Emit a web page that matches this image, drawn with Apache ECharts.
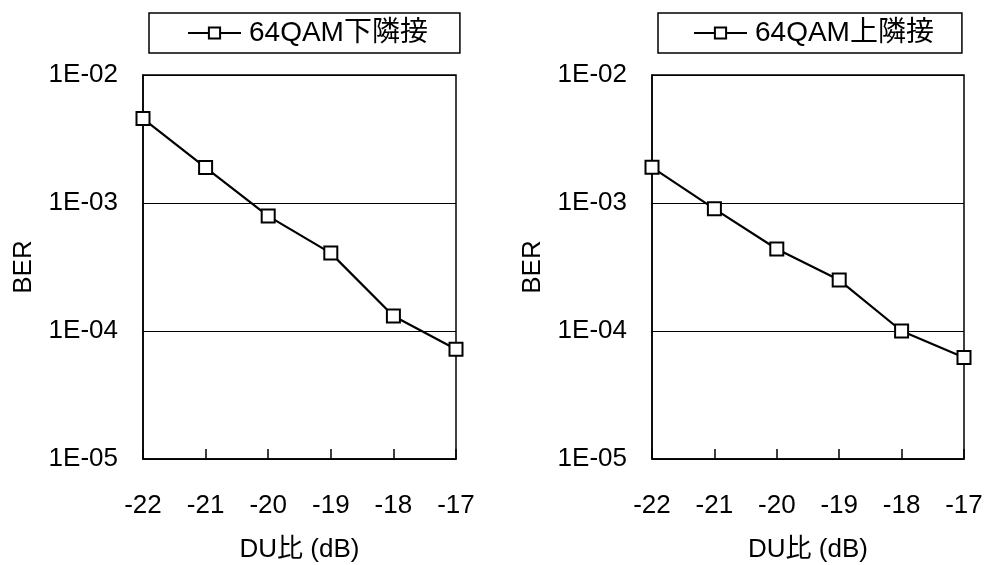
<!DOCTYPE html>
<html>
<head>
<meta charset="utf-8">
<script src="https://cdn.jsdelivr.net/npm/echarts@6/dist/echarts.min.js"></script>
<style>
html,body{margin:0;padding:0;background:#fff;}
#chart{width:989px;height:565px;}
</style>
</head>
<body>
<div id="chart"></div>
<script>
const xValues = [-22, -21, -20, -19, -18, -17];
const lowerAdjacentBER = [4.57e-3, 1.89e-3, 7.9e-4, 4.06e-4, 1.31e-4, 7.2e-5];
const upperAdjacentBER = [1.9e-3, 9.0e-4, 4.37e-4, 2.5e-4, 1.0e-4, 6.2e-5];
const seriesNames = ['64QAM下隣接', '64QAM上隣接'];
const xAxisTitle = 'DU比 (dB)';
const yAxisTitle = 'BER';

const FONT = '"Liberation Sans", Arial, "Noto Sans CJK JP", sans-serif';
const chart = echarts.init(document.getElementById('chart'), null, {renderer: 'canvas'});

function pairs(ys) { return xValues.map((x, i) => [x, ys[i]]); }
function fmtY(v) {
  const e = Math.round(Math.log10(v));
  const a = Math.abs(e);
  return '1E' + (e < 0 ? '-' : '+') + (a < 10 ? '0' : '') + a;
}

const grids = [
  {left: 143, top: 75, width: 313, height: 384},
  {left: 652, top: 75, width: 312, height: 384}
];

const option = {
  backgroundColor: '#fff',
  animation: false,
  textStyle: {fontFamily: FONT, color: '#000'},
  grid: grids.map(g => Object.assign({show: true, borderColor: '#000', borderWidth: 1.5, backgroundColor: 'transparent', containLabel: false, outerBoundsMode: 'none'}, g)),
  legend: [0, 1].map(i => ({
    data: [seriesNames[i]],
    left: i === 0 ? 149 : 658,
    top: 13,
    padding: i === 0 ? [6, 32, 6, 38] : [6, 28, 6, 35],
    borderColor: '#000',
    borderWidth: 1.5,
    itemWidth: 53,
    itemHeight: 14,
    itemGap: 0,
    textStyle: {fontFamily: FONT, fontSize: 28, color: '#000', padding: [0, 0, 0, 3]}
  })),
  xAxis: [0, 1].map(i => ({
    type: 'value',
    gridIndex: i,
    min: -22, max: -17, interval: 1,
    name: xAxisTitle,
    nameLocation: 'middle',
    nameGap: 78,
    nameTextStyle: {fontFamily: FONT, fontSize: 26, color: '#000'},
    axisLine: {show: true, onZero: false, lineStyle: {color: '#000', width: 1.5}},
    axisTick: {show: true, inside: true, length: 10, lineStyle: {color: '#000', width: 1.5}},
    axisLabel: {fontFamily: FONT, fontSize: 26, color: '#000', margin: 34, formatter: v => String(v)},
    splitLine: {show: false}
  })),
  yAxis: [0, 1].map(i => ({
    type: 'log',
    logBase: 10,
    gridIndex: i,
    min: 1e-5, max: 1e-2,
    name: yAxisTitle,
    nameLocation: 'middle',
    nameGap: 106,
    nameRotate: 90,
    nameTextStyle: {fontFamily: FONT, fontSize: 26, color: '#000'},
    axisLine: {show: true, lineStyle: {color: '#000', width: 1.5}},
    axisTick: {show: false},
    axisLabel: {fontFamily: FONT, fontSize: 26, color: '#000', margin: 25, padding: [3, 0, 0, 0], formatter: fmtY},
    splitLine: {show: true, lineStyle: {color: '#000', width: 1.2}}
  })),
  series: [
    {name: seriesNames[0], data: pairs(lowerAdjacentBER)},
    {name: seriesNames[1], data: pairs(upperAdjacentBER)}
  ].map((s, i) => ({
    type: 'line',
    name: s.name,
    xAxisIndex: i, yAxisIndex: i,
    data: s.data,
    symbol: 'rect',
    symbolSize: 13,
    showAllSymbol: true,
    lineStyle: {color: '#000', width: 2.2},
    itemStyle: {color: '#fff', borderColor: '#000', borderWidth: 2},
    emphasis: {disabled: true},
    z: 5
  }))
};
chart.setOption(option);
</script>
</body>
</html>
